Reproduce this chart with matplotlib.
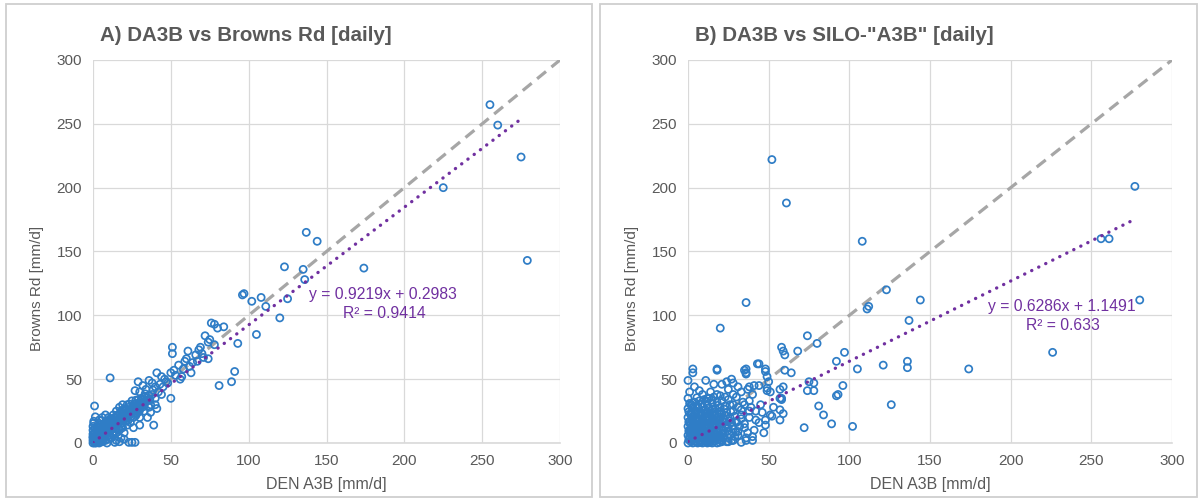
import matplotlib.pyplot as plt
from matplotlib.patches import Rectangle
import numpy as np

plt.rcParams['font.family'] = ['Liberation Sans', 'DejaVu Sans']

# ---- panel A: DA3B vs Browns Rd ----
a_high = [(255, 265), (260, 249), (275, 224), (225, 200), (279, 143), (137, 165), (144, 158),
          (123, 138), (135, 136), (136, 128), (174, 137), (96, 116), (97, 117), (102, 111),
          (108, 114), (111, 107), (125, 113), (120, 98), (105, 85), (91, 56), (89, 48), (81, 45)]
a_mid = [(78, 93), (80, 90), (84, 91), (76, 94), (72, 84), (74, 79), (75, 81), (78, 77), (69, 75),
         (68, 73), (93, 78), (74, 66), (61, 72), (59, 64), (60, 66), (51, 75), (51, 70), (55, 61),
         (50, 55), (52, 57), (57, 52), (62, 60), (64, 63), (66, 69), (70, 70), (41, 55), (44, 52),
         (46, 50), (36, 49), (38, 47), (29, 48), (32, 45), (27, 41), (30, 40), (34, 42), (40, 44),
         (43, 46), (47, 48), (50, 35), (41, 27), (39, 14), (30, 14), (11, 51), (1, 29), (0.5, 17),
         (23, 0.5), (25, 0.5), (27, 0.5), (20, 3), (48, 47), (53, 53), (56, 50), (45, 44), (42, 40),
         (38, 38), (35, 33), (36, 37), (33, 36), (31, 30), (37, 30), (44, 38), (40, 35), (58, 58),
         (63, 55), (67, 64), (71, 67)]
a_blob = [(0, 0), (1, 0), (2, 1), (0, 2), (1, 3), (3, 2), (2, 4), (4, 3), (3, 5), (5, 4), (4, 6),
          (6, 5), (5, 7), (7, 6), (6, 8), (8, 7), (7, 9), (9, 8), (8, 10), (10, 9), (9, 11),
          (11, 10), (10, 12), (12, 11), (11, 13), (13, 12), (12, 14), (14, 13), (13, 15), (15, 14),
          (14, 16), (16, 15), (15, 17), (17, 16), (16, 18), (18, 17), (17, 19), (19, 18), (18, 20),
          (20, 19), (19, 21), (21, 20), (20, 22), (22, 21), (21, 23), (23, 22), (22, 24), (24, 23),
          (23, 25), (25, 24), (24, 26), (26, 25), (25, 27), (27, 26), (26, 28), (28, 27), (29, 29),
          (30, 31), (32, 32), (33, 30), (0, 5), (1, 8), (2, 10), (3, 12), (5, 14), (4, 18), (6, 20),
          (0, 10), (0, 13), (1, 5), (2, 0), (4, 0), (6, 1), (8, 2), (10, 3), (12, 4), (9, 0),
          (13, 6), (15, 8), (17, 10), (14, 20), (12, 18), (10, 16), (8, 14), (6, 12), (16, 22),
          (18, 25), (20, 27), (22, 30), (25, 33), (24, 16), (22, 14), (19, 12), (21, 17), (26, 20),
          (28, 23), (30, 26), (3, 9), (5, 11), (7, 3), (11, 6), (14, 9), (7, 15), (9, 17), (11, 19),
          (13, 22), (15, 25), (17, 28), (19, 30), (23, 28), (27, 31), (29, 34), (31, 35), (1, 1),
          (2, 2), (3, 3), (0, 4), (4, 1), (5, 2), (6, 3), (0, 7), (2, 6), (7, 11), (9, 13),
          (11, 15), (13, 17), (15, 2), (18, 4), (14, 0.5), (17, 1), (10, 20), (8, 22), (20, 8),
          (26, 12), (35, 20), (33, 25), (37, 24), (30, 20), (40, 30), (36, 28)]
a_band = [(2.5, 1.5), (4.5, 5.5), (6.5, 4.5), (8.5, 8.5), (10.5, 7.5), (12.5, 12.5), (14.5, 11.5),
          (16.5, 16.5), (18.5, 15.5), (20.5, 20.5), (22.5, 19.5), (24.5, 24.5), (26.5, 23.5),
          (28.5, 28.5), (30.5, 27.5), (3.5, 7.5), (5.5, 9.5), (7.5, 12.5), (9.5, 14.5),
          (11.5, 17.5), (13.5, 19.5), (15.5, 21.5), (17.5, 23.5), (19.5, 25.5), (21.5, 26.5),
          (23.5, 30.5), (25.5, 29.5), (27.5, 33.5), (29.5, 31.5), (31.5, 33.5), (34.5, 35.5),
          (36.5, 34.5), (38.5, 41.5), (33.5, 38.5), (10.5, 4.5), (12.5, 7.5), (16.5, 11.5),
          (18.5, 13.5), (22.5, 17.5), (24.5, 20.5), (27.5, 21.5), (29.5, 24.5), (32.5, 28.5),
          (1.5, 11.5), (0.5, 15.5), (1.5, 20.5), (3.5, 15.5), (5.5, 17.5)]

# ---- panel B: DA3B vs SILO "A3B" ----
b_high = [(52, 222), (61, 188), (277, 201), (256, 160), (261, 160), (108, 158), (123, 120),
          (112, 107), (111, 105), (144, 112), (280, 112), (137, 96), (36, 110), (20, 90),
          (226, 71), (174, 58), (136, 64), (136, 59), (121, 61), (105, 58), (97, 71), (92, 64),
          (96, 45), (93, 38), (92, 37), (81, 29), (126, 30), (74, 84), (80, 78), (68, 72),
          (58, 75), (59, 72), (60, 69), (60, 57), (64, 55), (74, 41), (78, 47), (78, 41),
          (75, 48), (58, 35), (102, 13), (72, 12), (89, 15), (84, 22)]
b_mid = [(44, 62), (43, 62), (35, 57), (36, 54), (48, 56), (49, 52), (41, 45), (38, 44), (57, 35),
         (49, 41), (51, 40), (59, 23), (57, 18), (53, 28), (52, 21), (48, 14), (47, 8), (41, 10),
         (40, 5), (36, 2), (18, 58), (36, 58), (3, 58), (48, 58), (3, 55), (0, 49), (18, 57),
         (11, 49), (16, 46), (7, 41), (21, 46), (27, 50), (28, 47), (36, 55), (50, 48), (44, 45),
         (49, 43), (57, 42), (59, 44), (58, 34), (57, 26), (51, 22), (48, 18), (40, 2), (45, 30),
         (42, 25), (38, 20), (44, 16), (40, 38), (33, 40), (30, 36), (25, 42), (14, 40), (9, 38),
         (4, 44), (1, 40), (0, 35), (2, 30), (12, 35), (18, 38), (23, 36), (28, 38), (35, 30),
         (39, 28), (33, 22), (30, 16), (35, 12), (31, 6), (28, 2), (25, 1), (33, 0.5), (42, 18),
         (46, 24), (38, 33), (31, 44), (24, 48), (37, 42)]
b_blob = [(0, 0), (3, 0), (6, 0), (9, 0), (12, 0), (15, 0), (18, 0), (21, 1), (24, 1), (27, 2),
          (1, 3), (4, 3), (7, 2), (10, 3), (13, 2), (16, 3), (19, 3), (22, 4), (25, 4), (29, 5),
          (0, 6), (2, 7), (5, 6), (8, 6), (11, 7), (14, 6), (17, 7), (20, 6), (23, 8), (26, 7),
          (31, 9), (1, 10), (4, 9), (7, 10), (10, 9), (13, 10), (16, 9), (19, 11), (22, 10),
          (25, 12), (28, 11), (32, 13), (0, 13), (3, 13), (6, 14), (9, 12), (12, 14), (15, 13),
          (18, 14), (21, 15), (24, 14), (27, 16), (30, 17), (1, 17), (4, 16), (7, 18), (10, 16),
          (13, 18), (16, 17), (19, 18), (22, 19), (26, 20), (29, 21), (0, 20), (3, 21), (6, 20),
          (9, 22), (12, 21), (15, 22), (18, 23), (21, 23), (24, 24), (28, 25), (33, 26), (2, 24),
          (5, 25), (8, 24), (11, 26), (14, 25), (17, 27), (20, 28), (23, 29), (26, 30), (0, 27),
          (3, 28), (6, 29), (9, 28), (12, 30), (15, 31), (18, 32), (21, 33), (25, 34), (1, 31),
          (4, 32), (7, 33), (10, 34), (13, 35), (16, 36), (20, 37), (2, 1), (5, 1), (8, 1),
          (11, 1), (14, 1), (1, 5), (4, 5), (7, 4), (10, 5), (13, 4), (16, 5), (19, 5), (2, 12),
          (5, 11), (8, 11), (11, 11), (14, 11), (17, 12), (3, 18), (6, 17), (9, 19), (12, 17),
          (15, 19), (2, 22), (7, 23), (11, 23), (16, 24), (35, 15), (37, 8), (38, 25), (34, 32),
          (31, 28), (28, 30), (33, 19), (36, 4)]
b_fill = [(1.5, 1.5), (4.5, 1.5), (7.5, 0.5), (10.5, 1.5), (13.5, 0.5), (16.5, 1.5), (19.5, 0.5),
          (2.5, 4.5), (5.5, 3.5), (8.5, 4.5), (11.5, 3.5), (14.5, 4.5), (17.5, 3.5), (20.5, 2.5),
          (1.5, 8.5), (3.5, 7.5), (6.5, 8.5), (9.5, 7.5), (12.5, 8.5), (15.5, 7.5), (18.5, 8.5),
          (21.5, 7.5), (24.5, 9.5), (2.5, 11.5), (5.5, 12.5), (8.5, 10.5), (11.5, 12.5),
          (14.5, 9.5), (17.5, 10.5), (20.5, 12.5), (23.5, 11.5), (1.5, 14.5), (4.5, 14.5),
          (7.5, 15.5), (10.5, 13.5), (13.5, 15.5), (16.5, 14.5), (19.5, 15.5), (22.5, 16.5),
          (25.5, 17.5), (2.5, 18.5), (5.5, 19.5), (8.5, 17.5), (11.5, 19.5), (14.5, 17.5),
          (17.5, 19.5), (20.5, 20.5), (23.5, 21.5), (1.5, 22.5), (4.5, 23.5), (7.5, 21.5),
          (10.5, 22.5), (13.5, 23.5), (16.5, 21.5), (19.5, 24.5), (22.5, 26.5), (3.5, 26.5),
          (6.5, 27.5), (9.5, 25.5), (12.5, 27.5), (15.5, 26.5), (18.5, 29.5), (2.5, 29.5),
          (8.5, 30.5), (14.5, 33.5), (5.5, 35.5), (11.5, 32.5), (27.5, 13.5), (29.5, 8.5),
          (26.5, 24.5), (0.5, 24.5), (0.5, 16.5), (0.5, 9.5), (0.5, 2.5)]

# trendline coefficients as printed on the chart, and extent of the fit
a_fit = (0.9219, 0.2983, 0.9414, 276)
b_fit = (0.6286, 1.1491, 0.633, 278)

ticks = [0, 50, 100, 150, 200, 250, 300]
grey_txt = '#595959'
grid_c = '#d9d9d9'
blue = '#2f7dc6'
purple = '#7030a0'

fig = plt.figure(figsize=(12.03, 5.0), dpi=100)

# panel frames
for x0, x1 in [(6, 592), (600, 1197)]:
    fig.add_artist(Rectangle((x0 / 1203, 3 / 500), (x1 - x0) / 1203, 493 / 500,
                             transform=fig.transFigure, fill=False, edgecolor='#cfcfcf', lw=1.3))


def panel(ax, groups, fit, title, title_x, ylab_x, eq_xy, eq_lines):
    pts = np.array(sum(groups, []), dtype=float)
    ax.set_xlim(0, 300)
    ax.set_ylim(0, 300)
    ax.set_xticks(ticks)
    ax.set_yticks(ticks)
    ax.grid(True, color=grid_c, lw=0.9)
    ax.set_axisbelow(True)
    for s in ['top', 'right', 'left']:
        ax.spines[s].set_visible(False)
    ax.spines['bottom'].set_color(grid_c)
    ax.spines['bottom'].set_linewidth(1.2)
    ax.tick_params(length=0, labelsize=11, labelcolor=grey_txt, pad=8)

    ax.plot([0, 300], [0, 300], color='#a6a6a6', lw=2.3, ls=(0, (3.6, 2.2)), zorder=2)
    ax.scatter(pts[:, 0], pts[:, 1], s=26, facecolors='none', edgecolors=blue,
               linewidths=1.25, zorder=3, clip_on=False)
    slope, icept, r2, xend = fit
    xs = np.array([0, xend])
    ax.plot(xs, slope * xs + icept, color=purple, lw=2.4, ls=(0, (0.05, 2.3)),
            dash_capstyle='round', zorder=4)

    for (tx, ty), s in zip(eq_xy, eq_lines):
        ax.text(tx, ty, s, color=purple, fontsize=11.3, ha='center', va='center',
                transform=fig.transFigure)

    fig.text(title_x / 1203, 1 - 35 / 500, title, fontsize=14.8, fontweight='bold',
             color=grey_txt, ha='left', va='center')
    fig.text(ylab_x / 1203, 1 - 288 / 500, 'Browns Rd [mm/d]', rotation=90, fontsize=11,
             color=grey_txt, ha='center', va='center')
    bbox = ax.get_position()
    fig.text((bbox.x0 + bbox.x1) / 2, 1 - 484 / 500, 'DEN A3B [mm/d]', fontsize=11.5,
             color=grey_txt, ha='center', va='center')


axA = fig.add_axes([93 / 1203, 57 / 500, 467 / 1203, 383 / 500])
axB = fig.add_axes([688 / 1203, 57 / 500, 484 / 1203, 383 / 500])

panel(axA, [a_high, a_mid, a_blob, a_band], a_fit, 'A) DA3B vs Browns Rd [daily]', 100, 37,
      [(383 / 1203, 1 - 295 / 500), (384 / 1203, 1 - 313 / 500)],
      ['y = %.4fx + %.4f' % a_fit[:2], 'R² = %.4f' % a_fit[2]])
panel(axB, [b_high, b_mid, b_blob, b_fill], b_fit, 'B) DA3B vs SILO-"A3B" [daily]', 695, 632,
      [(1062 / 1203, 1 - 307 / 500), (1063 / 1203, 1 - 325 / 500)],
      ['y = %.4fx + %.4f' % b_fit[:2], 'R² = %.3f' % b_fit[2]])

fig.savefig('out.png', dpi=100)
